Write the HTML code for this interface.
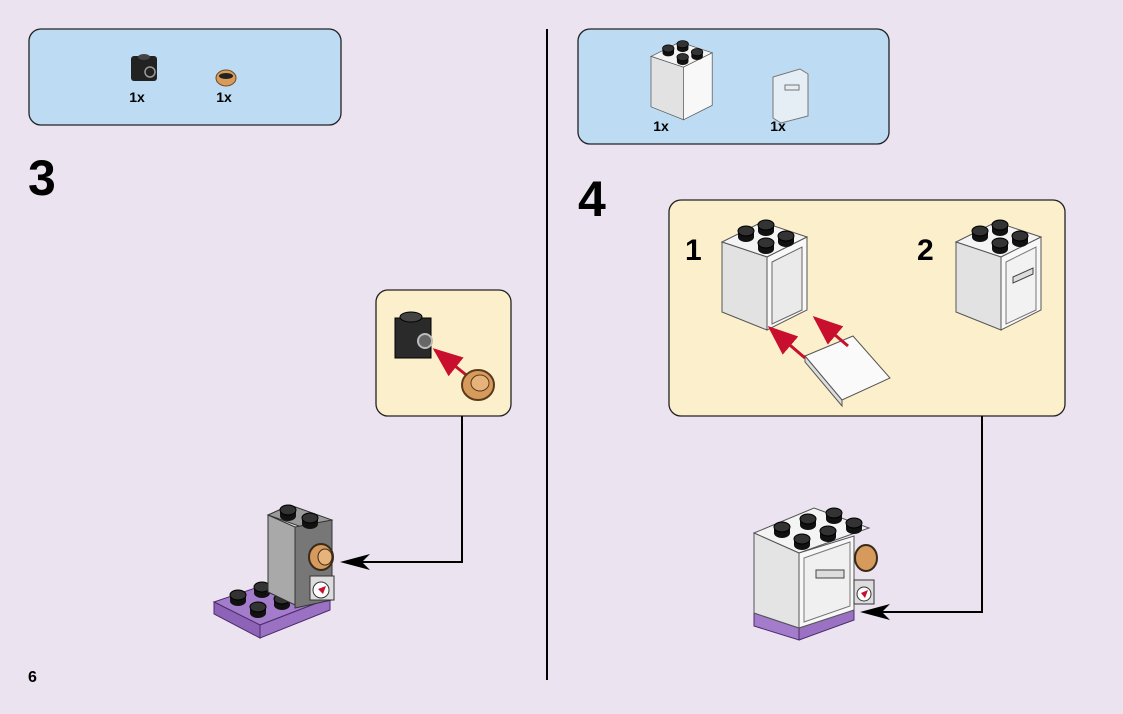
<!DOCTYPE html>
<html><head><meta charset="utf-8"><style>
html,body{margin:0;padding:0;background:#ece3f1;}
body{width:1123px;height:709px;overflow:hidden;position:relative;font-family:"Liberation Sans",Arial,sans-serif;}
</style></head><body>
<svg width="1123" height="709" viewBox="0 0 1123 709" xmlns="http://www.w3.org/2000/svg" font-family="Liberation Sans, Arial, sans-serif">
<defs>
<g id="stud"><ellipse cx="0" cy="3" rx="8" ry="5" fill="#111"/><rect x="-8" y="-3" width="16" height="6" fill="#111"/><ellipse cx="0" cy="-3" rx="8" ry="5" fill="#333" stroke="#000" stroke-width="1"/></g>
<g id="cup">
<polygon points="0,20 40,0 85,15 45,35" fill="#f4f4f4" stroke="#555" stroke-width="1"/>
<polygon points="0,20 45,35 45,108 0,90" fill="#e2e2e2" stroke="#555" stroke-width="1"/>
<polygon points="45,35 85,15 85,88 45,108" fill="#f8f8f8" stroke="#555" stroke-width="1"/>
<use href="#stud" x="24" y="12"/><use href="#stud" x="44" y="6"/><use href="#stud" x="44" y="24"/><use href="#stud" x="64" y="17"/>
</g>
<marker id="ah" markerWidth="10" markerHeight="8" refX="9" refY="4" orient="auto"><path d="M0,0 L10,4 L0,8 Z" fill="#c8102e"/></marker>
</defs>

<rect x="29" y="29" width="312" height="96" rx="12" fill="#bddcf3" stroke="#222" stroke-width="1.3"/>
<rect x="131" y="56" width="26" height="25" rx="3" fill="#222"/>
<ellipse cx="144" cy="57" rx="6" ry="3" fill="#444"/>
<circle cx="150" cy="72" r="5" fill="none" stroke="#999" stroke-width="1.5"/>
<ellipse cx="226" cy="78" rx="10" ry="8" fill="#d99a5a" stroke="#6b4a22"/>
<ellipse cx="226" cy="76" rx="7" ry="3" fill="#222"/>
<text x="137" y="102" font-size="14" font-weight="bold" text-anchor="middle">1x</text>
<text x="224" y="102" font-size="14" font-weight="bold" text-anchor="middle">1x</text>

<text x="28" y="195" font-size="50" font-weight="bold">3</text>

<rect x="376" y="290" width="135" height="126" rx="12" fill="#fcefcb" stroke="#222" stroke-width="1.3"/>
<rect x="395" y="318" width="36" height="40" fill="#2a2a2a" stroke="#000"/>
<ellipse cx="411" cy="317" rx="11" ry="5" fill="#444" stroke="#000"/>
<circle cx="425" cy="341" r="7" fill="#666" stroke="#bbb" stroke-width="2"/>
<line x1="470" y1="378" x2="435" y2="350" stroke="#c8102e" stroke-width="3" marker-end="url(#ah)"/>
<ellipse cx="478" cy="385" rx="16" ry="15" fill="#d59a5c" stroke="#5a3a1a" stroke-width="2"/>
<ellipse cx="480" cy="383" rx="9" ry="8" fill="#e6b47a" stroke="#5a3a1a"/>

<polyline points="462,416 462,562 350,562" fill="none" stroke="#000" stroke-width="2"/>
<polygon points="340,562 370,554 362,562 370,570" fill="#000"/>

<polygon points="214,602 285,578 330,598 260,625" fill="#a47ccc" stroke="#4b2d6b"/>
<polygon points="214,602 260,625 260,638 214,614" fill="#8d63b8" stroke="#4b2d6b"/>
<polygon points="260,625 330,598 330,610 260,638" fill="#9b71c4" stroke="#4b2d6b"/>
<use href="#stud" x="238" y="598"/><use href="#stud" x="262" y="590"/><use href="#stud" x="258" y="610"/><use href="#stud" x="282" y="602"/>
<polygon points="268,515 290,505 332,520 310,530" fill="#9a9a9a" stroke="#333"/>
<polygon points="268,515 295,527 295,605 268,592" fill="#a9a9a9" stroke="#333"/>
<polygon points="295,527 332,520 332,600 295,608" fill="#777" stroke="#333"/>
<use href="#stud" x="288" y="513"/><use href="#stud" x="310" y="521"/>
<ellipse cx="321" cy="557" rx="12" ry="13" fill="#d59a5c" stroke="#3a2a1a" stroke-width="2"/>
<ellipse cx="325" cy="557" rx="7" ry="8" fill="#e6b47a" stroke="#3a2a1a"/>
<rect x="310" y="576" width="24" height="24" fill="#ddd" stroke="#333"/>
<circle cx="321" cy="590" r="8" fill="#fff" stroke="#333"/>
<path d="M318,589 L326,586 L323,594 Z" fill="#c8102e"/>

<text x="28" y="682" font-size="16" font-weight="bold">6</text>

<line x1="547" y1="29" x2="547" y2="680" stroke="#000" stroke-width="2"/>

<rect x="578" y="29" width="311" height="115" rx="12" fill="#bddcf3" stroke="#222" stroke-width="1.3"/>
<g transform="translate(651,42) scale(0.72)"><use href="#cup"/></g>
<polygon points="773,77 800,69 808,74 808,116 781,123 773,118" fill="#e6eef5" stroke="#777"/>
<rect x="785" y="85" width="14" height="5" fill="none" stroke="#777"/>
<text x="661" y="131" font-size="14" font-weight="bold" text-anchor="middle">1x</text>
<text x="778" y="131" font-size="14" font-weight="bold" text-anchor="middle">1x</text>

<text x="578" y="216" font-size="50" font-weight="bold">4</text>

<rect x="669" y="200" width="396" height="216" rx="12" fill="#fcefcb" stroke="#222" stroke-width="1.3"/>
<text x="685" y="260" font-size="30" font-weight="bold">1</text>
<text x="917" y="260" font-size="30" font-weight="bold">2</text>
<g transform="translate(722,222)"><use href="#cup"/><polygon points="50,40 80,25 80,88 50,102" fill="#eaeaea" stroke="#666"/></g>
<polygon points="805,356 853,336 890,378 842,400" fill="#fafafa" stroke="#555"/>
<polygon points="805,356 842,400 842,406 805,362" fill="#ddd" stroke="#555"/>
<line x1="805" y1="358" x2="770" y2="328" stroke="#c8102e" stroke-width="3" marker-end="url(#ah)"/>
<line x1="848" y1="346" x2="815" y2="318" stroke="#c8102e" stroke-width="3" marker-end="url(#ah)"/>
<g transform="translate(956,222)"><use href="#cup"/><polygon points="50,40 80,25 80,88 50,102" fill="#f2f2f2" stroke="#777"/><polygon points="57,55 77,46 77,52 57,61" fill="#ddd" stroke="#444"/></g>

<polyline points="982,416 982,612 870,612" fill="none" stroke="#000" stroke-width="2"/>
<polygon points="860,612 890,604 882,612 890,620" fill="#000"/>

<g transform="translate(754,508)">
<polygon points="0,105 45,120 45,132 0,118" fill="#a47ccc" stroke="#4b2d6b"/>
<polygon points="45,120 100,100 100,112 45,132" fill="#9b71c4" stroke="#4b2d6b"/>
<polygon points="0,25 60,0 115,20 45,45" fill="#f4f4f4" stroke="#555"/>
<polygon points="0,25 45,45 45,120 0,105" fill="#e4e4e4" stroke="#555"/>
<polygon points="45,45 100,28 100,102 45,120" fill="#f8f8f8" stroke="#555"/>
<polygon points="50,50 96,34 96,98 50,114" fill="#f0f0f0" stroke="#777"/>
<rect x="62" y="62" width="28" height="8" fill="#ddd" stroke="#444"/>
<use href="#stud" x="28" y="22"/><use href="#stud" x="54" y="14"/><use href="#stud" x="48" y="34"/><use href="#stud" x="74" y="26"/><use href="#stud" x="80" y="8"/><use href="#stud" x="100" y="18"/>
<ellipse cx="112" cy="50" rx="11" ry="13" fill="#d59a5c" stroke="#3a2a1a" stroke-width="2"/>
<rect x="100" y="72" width="20" height="24" fill="#ddd" stroke="#333"/>
<circle cx="110" cy="86" r="7" fill="#fff" stroke="#333"/>
<path d="M107,85 L114,82 L111,90 Z" fill="#c8102e"/>
</g>
</svg>
</body></html>
